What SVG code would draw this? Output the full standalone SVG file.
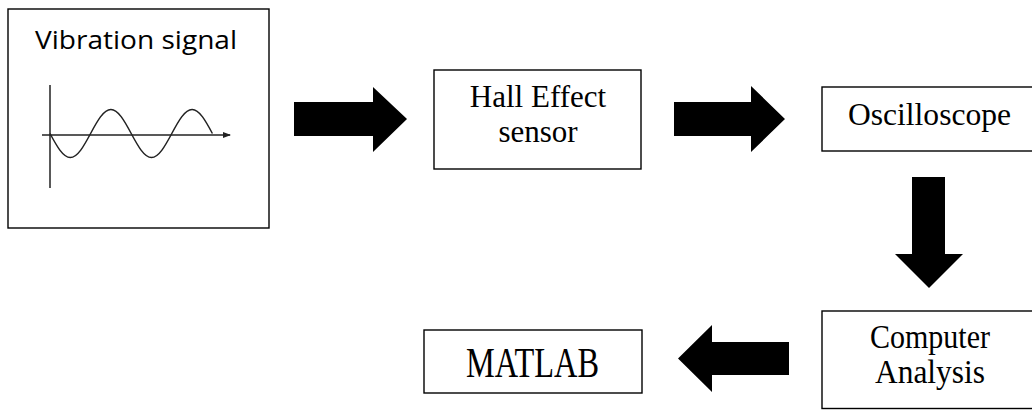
<svg xmlns="http://www.w3.org/2000/svg" width="1032" height="410" viewBox="0 0 1032 410">
<style>
.box{fill:#fff;stroke:#000;stroke-width:1.4}
.serif{font-family:"Liberation Serif","Times New Roman",serif;fill:#000;text-anchor:middle}
.sans{font-family:"Open Sans","Liberation Sans",sans-serif;fill:#000;text-anchor:middle}
.arrow{fill:#000;stroke:none}
.axis{fill:none;stroke:#222;stroke-width:1.5}
</style>
<defs>
<marker id="axhead" markerWidth="8" markerHeight="6" refX="7" refY="3" orient="auto" markerUnits="userSpaceOnUse">
<path d="M0,0 L8,3 L0,6 Z" fill="#222"/>
</marker>
</defs>
<g id="vibration-signal">
<rect class="box" x="8" y="9" width="261" height="219" stroke="#222"/>
<text class="sans" x="136" y="49" font-size="25" textLength="202" lengthAdjust="spacingAndGlyphs">Vibration signal</text>
<line class="axis" x1="50" y1="85" x2="50" y2="188"/>
<line class="axis" x1="42" y1="135" x2="230" y2="135" marker-end="url(#axhead)"/>
<path class="axis" d="M50,133.5 C56.6,145.8 62.95,157.5 70.3,157.5 C77.65,157.5 84,145.8 90.6,133.5 C97.2,121.2 103.55,109.5 110.9,109.5 C118.25,109.5 124.6,121.2 131.2,133.5 C137.8,145.8 144.15,157.5 151.5,157.5 C158.85,157.5 165.2,145.8 171.8,133.5 C178.4,121.2 184.75,109.5 192.1,109.5 C199.45,109.5 205.8,121.2 212.4,133.5"/>
</g>
<g id="hall-effect-sensor">
<rect class="box" x="434" y="70" width="207" height="99"/>
<text class="serif" x="538" y="107" font-size="31">Hall Effect</text>
<text class="serif" x="538" y="142" font-size="31">sensor</text>
</g>
<g id="oscilloscope">
<rect class="box" x="822" y="87" width="220" height="64"/>
<text class="serif" x="929.5" y="125" font-size="31.5" textLength="163" lengthAdjust="spacingAndGlyphs">Oscilloscope</text>
</g>
<g id="computer-analysis">
<rect class="box" x="822" y="311" width="220" height="97.5"/>
<text class="serif" x="930" y="348" font-size="33" textLength="120" lengthAdjust="spacingAndGlyphs">Computer</text>
<text class="serif" x="930" y="383" font-size="33" textLength="110" lengthAdjust="spacingAndGlyphs">Analysis</text>
</g>
<g id="matlab">
<rect class="box" x="424" y="330" width="218" height="63"/>
<text class="serif" x="532.5" y="377" font-size="42" textLength="133" lengthAdjust="spacingAndGlyphs">MATLAB</text>
</g>
<g id="connectors">
<polygon class="arrow" points="294,102 373,102 373,87 407,119 373,152 373,136 294,136"/>
<polygon class="arrow" points="674,102 751,102 751,86 785,119 751,152 751,136 674,136"/>
<polygon class="arrow" points="912,177 945,177 945,254 963,254 929,288 895,254 912,254"/>
<polygon class="arrow" points="789,342 712,342 712,325 678,358.5 712,392 712,375 789,375"/>
</g>
</svg>
